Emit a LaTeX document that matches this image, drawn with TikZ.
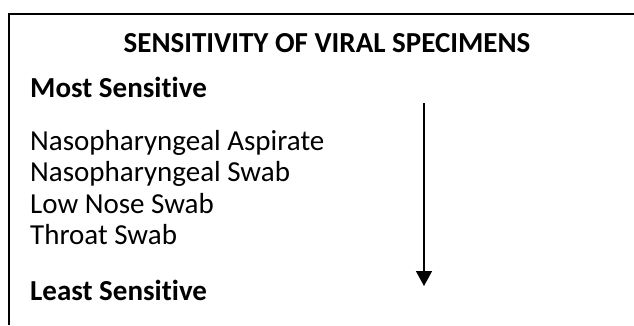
\documentclass[tikz,border=0pt]{standalone}
\usepackage{fontspec}
\setmainfont{Carlito}[Ligatures=NoCommon]
\usetikzlibrary{arrows.meta}
\tikzset{
  lbl/.style={inner sep=0pt, anchor=base west, font=\fontsize{29}{34}\selectfont},
  boldlbl/.style={lbl, font=\fontsize{29}{34}\selectfont\bfseries},
  frame/.style={line width=2pt, draw=black},
  arr/.style={line width=1.5pt, -{Triangle[width=16pt,length=15pt]}}
}
\begin{document}
\begin{tikzpicture}[x=1pt,y=-1pt]
\useasboundingbox (0,0) rectangle (634,325);
% frame
\coordinate (fbl) at (9,325);
\coordinate (ftl) at (9,14);
\coordinate (ftr) at (634,14);
\draw[line width=1.5pt] (fbl) -- (ftl);
\draw[frame] ([xshift=-0.75pt]ftl) -- (ftr);
% title
\node[inner sep=0pt, anchor=base, font=\fontsize{29}{34}\selectfont\bfseries] (title) at (327,52) {SENSITIVITY OF VIRAL SPECIMENS};
\node[boldlbl] (most) at (30,97) {Most Sensitive};
\node[lbl] (na) at (30,150) {Nasopharyngeal Aspirate};
\node[lbl] (ns) at (30,181.5) {Nasopharyngeal Swab};
\node[lbl] (lns) at (30,213) {Low Nose Swab};
\node[lbl] (ts) at (30,244.5) {Throat Swab};
\node[boldlbl] (least) at (30,300) {Least Sensitive};
% arrow
\coordinate (as) at (424,103);
\coordinate (ae) at (424,286);
\draw[arr] (as) -- (ae);
\end{tikzpicture}
\end{document}
